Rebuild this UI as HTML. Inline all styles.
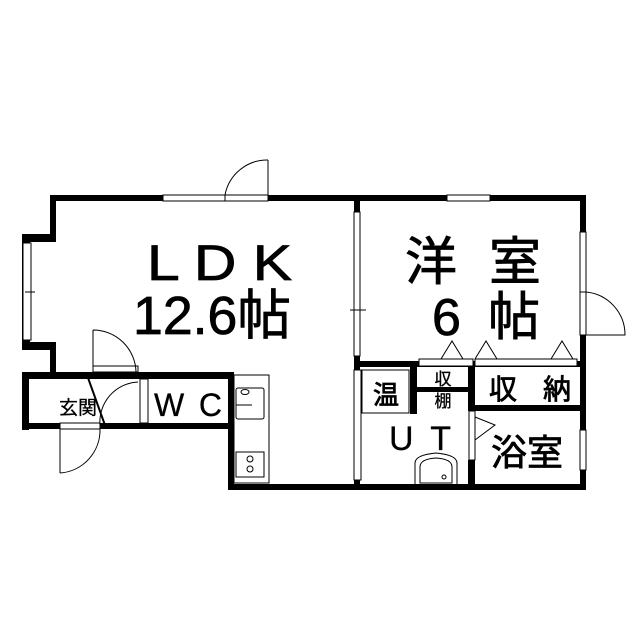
<!DOCTYPE html>
<html><head><style>body{margin:0;background:#fff}svg{display:block}text{font-family:"Liberation Sans","Noto Sans CJK JP",sans-serif}</style></head><body>
<svg width="640" height="640" viewBox="0 0 640 640" xmlns="http://www.w3.org/2000/svg">
<rect width="640" height="640" fill="#fff"/>
<g fill="#000">
<rect x="50" y="195" width="536" height="6"/>
<rect x="50" y="195" width="6" height="46"/>
<rect x="22" y="234" width="34" height="8"/>
<rect x="22" y="234" width="8" height="116"/>
<rect x="22" y="342" width="34" height="8"/>
<rect x="50" y="342" width="6" height="32"/>
<rect x="22" y="372" width="212" height="7"/>
<rect x="22" y="372" width="7" height="58"/>
<rect x="22" y="423" width="38" height="6"/>
<rect x="100" y="423" width="134" height="6"/>
<rect x="228" y="372" width="6" height="118"/>
<rect x="228" y="484" width="358" height="6"/>
<rect x="580" y="195" width="6" height="295"/>
<rect x="354" y="195" width="6" height="295"/>
<rect x="354" y="361" width="232" height="6"/>
<rect x="410" y="361" width="7" height="53"/>
<rect x="410" y="387" width="65" height="5"/>
<rect x="468" y="361" width="7" height="50"/>
<rect x="468" y="405" width="118" height="6"/>
<rect x="468" y="460" width="7" height="30"/>
</g>
<g fill="#fff" stroke="#000" stroke-width="1">
<rect x="163" y="195" width="62" height="6"/>
<rect x="225" y="195" width="43" height="6"/>
<rect x="447" y="195" width="43" height="6"/>
<rect x="23" y="243" width="8" height="97"/>
<rect x="354" y="212" width="6" height="144"/>
<rect x="580" y="232" width="6" height="60"/>
<rect x="580" y="292" width="6" height="43"/>
<rect x="580" y="430" width="6" height="40"/>
<rect x="354" y="370" width="7" height="110"/>
<rect x="469" y="411" width="6" height="49"/>
<rect x="60" y="423" width="40" height="6"/>
<rect x="140" y="379" width="8" height="44"/>
<rect x="93" y="366" width="45" height="6"/>
</g>
<g fill="none" stroke="#000" stroke-width="1">
<path d="M225 195 L268 195 M268 160 L268 195 M225 195 A43 43 0 0 1 268 160"/>
<path d="M93 330 L93 372 M93 330 A43 43 0 0 1 136 372"/>
<path d="M138 382 A40 40 0 0 0 100 425"/>
<path d="M60 429 L60 473 M60 473 A43 43 0 0 0 100 429"/>
<path d="M586 292 L586 335 L625 335 A43 43 0 0 0 586 292"/>
<path d="M87 375 L106 428" stroke-width="2"/>
<line x1="25" y1="292" x2="35" y2="292"/>
<line x1="350" y1="310" x2="366" y2="310"/>
<rect x="362" y="370" width="47" height="43"/>
<rect x="419" y="359" width="54" height="7" fill="#fff"/>
<rect x="475" y="359" width="102" height="7" fill="#fff"/>
<path d="M441 359 L452 341 L463 359 M475 359 L486 341 L497 359 M551 359 L562 341 L573 359"/>
<path d="M475 417 L495 425 L475 440"/>
<rect x="234" y="375" width="35" height="108"/>
<rect x="236" y="388" width="28" height="31" rx="2"/>
<ellipse cx="245" cy="392" rx="4" ry="2.5"/>
<line x1="236" y1="405" x2="252" y2="405"/>
<rect x="236" y="452" width="28" height="25"/>
<circle cx="250" cy="459" r="3"/><circle cx="250" cy="469" r="3"/>
<path d="M415 485 L415 463 Q415 455 436 453 Q457 455 457 463 L457 485"/>
<path d="M420 483 L420 467 Q420 459 436 458 Q452 459 452 467 L452 483 Z"/>
<circle cx="444" cy="477" r="2"/>
</g>
<g fill="#000" stroke="#000" stroke-width="0.8">
<text x="147" y="280" font-size="50" textLength="145" lengthAdjust="spacingAndGlyphs">L D K</text>
<text x="133" y="334" font-size="54" textLength="158" lengthAdjust="spacingAndGlyphs">12.6帖</text>
<text x="405" y="280" font-size="52" textLength="136" lengthAdjust="spacing">洋 室</text>
<text x="432" y="335" font-size="52" textLength="108" lengthAdjust="spacing">6 帖</text>
<text x="386" y="404" font-size="26" text-anchor="middle">温</text>
<text x="443" y="385" font-size="17" text-anchor="middle" stroke-width="0.3">収</text>
<text x="443" y="407" font-size="17" text-anchor="middle" stroke-width="0.3">棚</text>
<text x="489" y="399" font-size="28" textLength="82" lengthAdjust="spacing">収 納</text>
<text x="389" y="450" font-size="34" textLength="62" lengthAdjust="spacing" stroke-width="0.3">U T</text>
<text x="527" y="465" font-size="36" text-anchor="middle">浴室</text>
<text x="78" y="414" font-size="19" text-anchor="middle" stroke-width="0.3">玄関</text>
<text x="154" y="416" font-size="32" textLength="68" lengthAdjust="spacing" stroke-width="0.3">W C</text>
</g>
</svg>
</body></html>
